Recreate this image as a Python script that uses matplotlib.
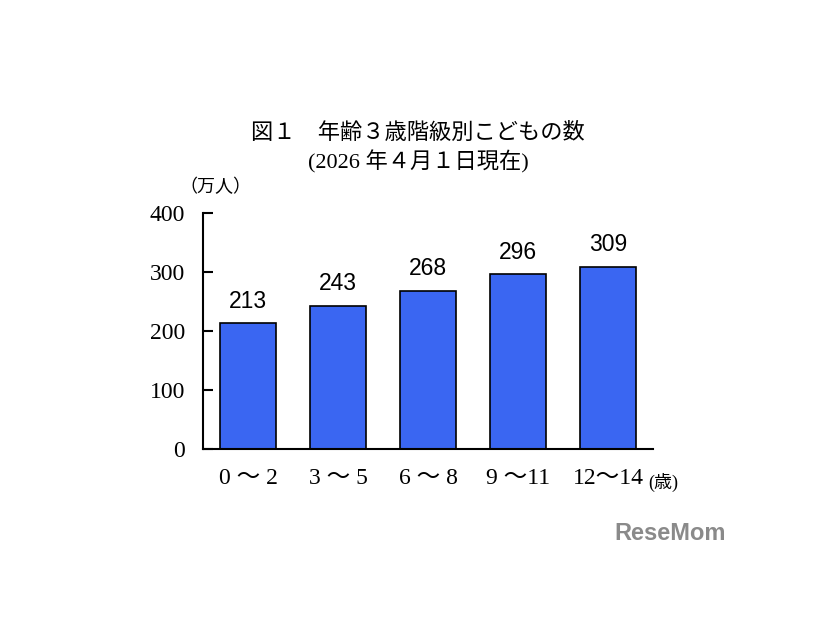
import matplotlib
matplotlib.use("Agg")
import matplotlib.pyplot as plt

categories = ["0 ～ 2", "3 ～ 5", "6 ～ 8", "9 ～11", "12～14"]
values = [213, 243, 268, 296, 309]
yticks = [0, 100, 200, 300, 400]

SERIF = ["Liberation Serif", "Noto Sans CJK JP"]
SANS = ["Liberation Sans", "Noto Sans CJK JP"]

fig = plt.figure(figsize=(8.26, 6.2), dpi=100)
W, H = 826, 620
ax = fig.add_axes([203 / W, 1 - 449 / H, 450 / W, (449 - 213) / H])

x = list(range(len(categories)))
ax.bar(x, values, width=0.63, color="#3a66f2", edgecolor="black", linewidth=1.2)
for xi, v in zip(x, values):
    ax.text(xi, v + 18, str(v), ha="center", va="bottom", fontsize=16.5,
            family=SANS, color="black")

ax.set_xlim(-0.5, 4.5)
ax.set_ylim(0, 400)
ax.set_yticks(yticks)
ax.set_yticklabels([str(t) for t in yticks], family=SERIF, fontsize=17)
ax.set_xticks(x)
ax.set_xticklabels(categories, family=SERIF, fontsize=17)
ax.tick_params(axis="y", direction="in", length=7, width=1.5, pad=13)
ax.tick_params(axis="x", length=0, pad=14)
for s in ["top", "right"]:
    ax.spines[s].set_visible(False)
for s in ["left", "bottom"]:
    ax.spines[s].set_linewidth(1.5)

fig.text(418 / W, 1 - 133 / H, "図１　年齢３歳階級別こどもの数", ha="center", va="center",
         fontsize=16, family=SERIF)
fig.text(418 / W, 1 - 162 / H, "(2026 年４月１日現在)", ha="center", va="center",
         fontsize=16, family=SERIF)
fig.text(215 / W, 1 - 187 / H, "（万人）", ha="center", va="center",
         fontsize=13, family=SERIF)
fig.text(663 / W, 1 - 482 / H, "(歳)", ha="center", va="center",
         fontsize=13, family=SERIF)
fig.text(670 / W, 1 - 533 / H, "ReseMom", ha="center", va="center",
         fontsize=17, fontweight="bold", family=SANS, color="#8a8a8a")

fig.savefig("out.png", dpi=100, facecolor="white")
